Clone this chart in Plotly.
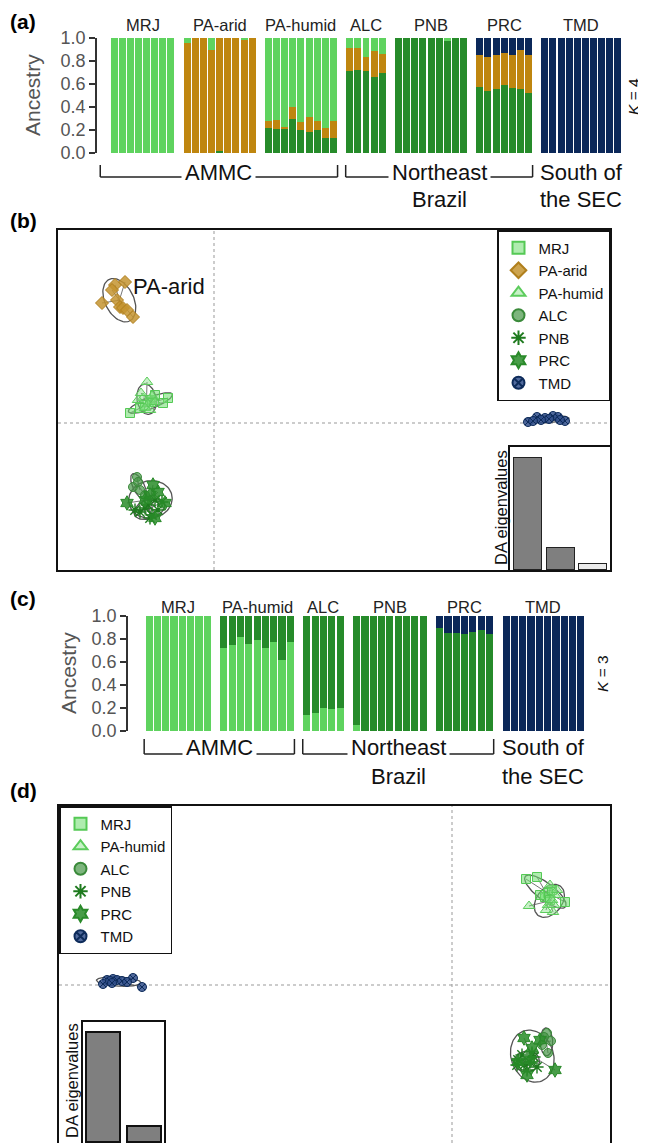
import numpy as np
import plotly.graph_objects as go

W, H = 646, 1143          # browser window
OFF = 8                   # page body margin
FW, FH = W - OFF, H - OFF  # figure size so that it fills the window
FONT = "Liberation Sans, Arial, Helvetica, sans-serif"

# ---------------- Panel (a): STRUCTURE K = 4 ----------------
k4_groups = ["MRJ", "PA-arid", "PA-humid", "ALC", "PNB", "PRC", "TMD"]
k4_sizes = [8, 9, 9, 5, 9, 7, 10]
k4_darkgreen = [0, 0, 0, 0, 0, 0, 0, 0,
                0, 0, 0, 0, 0.02, 0, 0, 0, 0,
                0.22, 0.21, 0.21, 0.30, 0.20, 0.18, 0.20, 0.13, 0.13,
                0.715, 0.72, 0.715, 0.66, 0.70,
                1, 1, 1, 1, 1, 1, 0.97, 1, 1,
                0.57, 0.54, 0.56, 0.59, 0.565, 0.56, 0.52,
                0, 0, 0, 0, 0, 0, 0, 0, 0, 0]
k4_orange = [0, 0, 0, 0, 0, 0, 0, 0,
             0.96, 1, 1, 0.90, 0.98, 1, 1, 0.98, 1,
             0.06, 0.08, 0.02, 0.10, 0.07, 0.13, 0.08, 0.09, 0.15,
             0.195, 0.19, 0.12, 0.23, 0.16,
             0, 0, 0, 0, 0, 0, 0, 0, 0,
             0.28, 0.295, 0.296, 0.283, 0.285, 0.34, 0.336,
             0, 0, 0, 0, 0, 0, 0, 0, 0, 0]
k4_lightgreen = [1, 1, 1, 1, 1, 1, 1, 1,
                 0.04, 0, 0, 0.10, 0, 0, 0, 0.02, 0,
                 0.72, 0.71, 0.77, 0.60, 0.73, 0.69, 0.72, 0.78, 0.72,
                 0.09, 0.09, 0.165, 0.11, 0.14,
                 0, 0, 0, 0, 0, 0, 0.03, 0, 0,
                 0, 0, 0, 0, 0, 0, 0,
                 0, 0, 0, 0, 0, 0, 0, 0, 0, 0]
k4_navy = [0, 0, 0, 0, 0, 0, 0, 0,
           0, 0, 0, 0, 0, 0, 0, 0, 0,
           0, 0, 0, 0, 0, 0, 0, 0, 0,
           0, 0, 0, 0, 0,
           0, 0, 0, 0, 0, 0, 0, 0, 0,
           0.15, 0.165, 0.144, 0.127, 0.15, 0.10, 0.144,
           1, 1, 1, 1, 1, 1, 1, 1, 1, 1]

# ---------------- Panel (c): STRUCTURE K = 3 ----------------
k3_groups = ["MRJ", "PA-humid", "ALC", "PNB", "PRC", "TMD"]
k3_sizes = [8, 9, 5, 9, 7, 10]
k3_lightgreen = [1, 1, 1, 1, 1, 1, 1, 1,
                 0.72, 0.745, 0.82, 0.755, 0.79, 0.72, 0.775, 0.62, 0.77,
                 0.14, 0.16, 0.20, 0.19, 0.20,
                 0.05, 0, 0, 0, 0, 0, 0, 0, 0,
                 0, 0, 0, 0, 0, 0, 0,
                 0, 0, 0, 0, 0, 0, 0, 0, 0, 0]
k3_darkgreen = [0, 0, 0, 0, 0, 0, 0, 0,
                0.28, 0.255, 0.18, 0.245, 0.21, 0.28, 0.225, 0.38, 0.23,
                0.86, 0.84, 0.80, 0.81, 0.80,
                0.95, 1, 1, 1, 1, 1, 1, 1, 1,
                0.90, 0.855, 0.855, 0.84, 0.86, 0.875, 0.847,
                0, 0, 0, 0, 0, 0, 0, 0, 0, 0]
k3_navy = [0, 0, 0, 0, 0, 0, 0, 0,
           0, 0, 0, 0, 0, 0, 0, 0, 0,
           0, 0, 0, 0, 0,
           0, 0, 0, 0, 0, 0, 0, 0, 0,
           0.10, 0.145, 0.145, 0.16, 0.14, 0.125, 0.153,
           1, 1, 1, 1, 1, 1, 1, 1, 1, 1]

ancestry_ticks = [0, 0.2, 0.4, 0.6, 0.8, 1.0]
ancestry_ticktext = ["0.0", "0.2", "0.4", "0.6", "0.8", "1.0"]

# ---------------- Panel (b): DAPC scatter, K = 4 groups ----------------
b_MRJ_x = [-8.4, -4.6, -5.1, -6.4, -6.9, -5.9, -7.4, -6.2]
b_MRJ_y = [1.0, 2.5, 2.0, 2.3, 1.8, 2.8, 1.5, 2.1]
b_PAarid_x = [-9.9, -8.9, -11.2, -8.1, -9.7, -9.4, -9.1, -10.2, -8.7]
b_PAarid_y = [13.8, 14.1, 12.0, 10.6, 12.3, 11.6, 11.5, 13.3, 11.3]
b_PAhumid_x = [-6.7, -7.1, -6.6, -7.6, -6.2, -6.9, -7.3, -6.4, -5.9]
b_PAhumid_y = [4.1, 2.5, 1.9, 2.3, 2.7, 1.5, 3.0, 1.3, 2.1]
b_ALC_x = [-7.7, -8.1, -7.4, -6.9, -7.6]
b_ALC_y = [-5.4, -6.4, -6.7, -7.2, -5.9]
b_PNB_x = [-7.4, -5.2, -6.6, -6.2, -6.9, -5.9, -7.9, -6.4, -5.6]
b_PNB_y = [-8.9, -7.9, -8.2, -9.2, -8.5, -7.7, -8.7, -9.5, -8.7]
b_PRC_x = [-8.7, -5.9, -6.1, -4.9, -6.4, -6.9, -5.6]
b_PRC_y = [-8.0, -9.5, -6.2, -8.0, -7.2, -7.7, -6.9]
b_TMD_x = [31.4, 35.1, 33.9, 32.3, 33.1, 34.4, 33.5, 32.7, 34.6, 31.9]
b_TMD_y = [0.1, 0.2, 0.7, 0.6, 0.5, 0.6, 0.4, 0.3, 0.3, 0.2]
b_eigen = [100, 19.6, 5.4]

# ---------------- Panel (d): DAPC scatter, K = 3 groups ----------------
d_MRJ_x = [7.4, 8.5, 11.3, 9.6, 9.3, 10.0, 8.8, 9.8]
d_MRJ_y = [10.6, 10.8, 8.3, 9.2, 8.8, 9.5, 9.0, 8.5]
d_PAhumid_x = [7.7, 10.1, 9.8, 10.3, 9.6, 10.0, 10.5, 9.4, 10.2]
d_PAhumid_y = [7.9, 7.3, 10.0, 9.0, 8.0, 8.5, 9.5, 7.5, 8.0]
d_ALC_x = [9.5, 9.9, 9.6, 9.0, 9.2]
d_ALC_y = [-4.8, -5.6, -6.8, -6.0, -5.2]
d_PNB_x = [7.8, 6.6, 7.2, 8.2, 7.0, 8.5, 7.5, 6.5, 8.0]
d_PNB_y = [-7.7, -7.5, -8.0, -7.2, -7.0, -8.2, -8.5, -8.0, -6.8]
d_PRC_x = [7.2, 10.3, 7.5, 6.6, 8.8, 8.0, 7.8]
d_PRC_y = [-5.3, -8.5, -9.0, -7.7, -5.5, -6.3, -7.5]
d_TMD_x = [-34.5, -33.9, -31.9, -31.0, -34.9, -34.2, -33.5, -34.0, -33.0, -32.5]
d_TMD_y = [0.5, 0.6, 0.7, -0.2, 0.1, 0.4, 0.5, 0.2, 0.4, 0.3]
d_eigen = [100, 14.5]

# ---------------- styles ----------------
C_LIGHT = "#5fd35f"
C_DARK = "#268b2a"
C_ORANGE = "#bf860f"
C_NAVY = "#0b2859"

STYLE = {
    "MRJ": dict(symbol="square", size=9, color="rgba(110,220,110,0.55)", line=dict(color="#55c955", width=1)),
    "PA-arid": dict(symbol="diamond", size=10, color="rgba(196,148,48,0.85)", line=dict(color="#b07f1c", width=1)),
    "PA-humid": dict(symbol="triangle-up", size=10, color="rgba(130,225,130,0.45)", line=dict(color="#5ccc5c", width=1)),
    "ALC": dict(symbol="circle", size=9, color="rgba(70,150,70,0.7)", line=dict(color="#3a8a3a", width=1)),
    "PNB": dict(symbol="asterisk-open", size=11, color="#1e7a1e", line=dict(color="#1e7a1e", width=1.4)),
    "PRC": dict(symbol="hexagram", size=11, color="rgba(40,140,40,0.85)", line=dict(color="#2a8a2a", width=1)),
    "TMD": dict(symbol="circle-x", size=9, color="rgba(50,80,140,0.85)", line=dict(color="#0d2b5a", width=1)),
}


def px_x(p):
    return (p - OFF) / FW


def px_y(p):
    return 1 - (p - OFF) / FH


def dom_x(a, b):
    return [px_x(a), px_x(b)]


def dom_y(top, bottom):
    return [max(0.0, px_y(bottom)), px_y(top)]


def slots(sizes):
    xs, centers, edges = [], [], []
    s = 0
    for n in sizes:
        xs.extend(range(s, s + n))
        centers.append(s + (n - 1) / 2)
        edges.append((s - 0.5, s + n - 0.5))
        s += n + 1
    return xs, centers, edges


fig = go.Figure()

# ---- bars (a)
xa, ca, ea = slots(k4_sizes)
for vals, col in [(k4_darkgreen, C_DARK), (k4_orange, C_ORANGE), (k4_lightgreen, C_LIGHT), (k4_navy, C_NAVY)]:
    fig.add_trace(go.Bar(x=xa, y=vals, width=0.86, marker=dict(color=col, line=dict(width=0)),
                         xaxis="x", yaxis="y", showlegend=False, hoverinfo="skip"))

# ---- bars (c)
xc, cc, ec = slots(k3_sizes)
for vals, col in [(k3_lightgreen, C_LIGHT), (k3_darkgreen, C_DARK), (k3_navy, C_NAVY)]:
    fig.add_trace(go.Bar(x=xc, y=vals, width=0.86, marker=dict(color=col, line=dict(width=0)),
                         xaxis="x4", yaxis="y4", showlegend=False, hoverinfo="skip"))


def ellipse(x, y, scale=1.8, n=80):
    x = np.asarray(x, float)
    y = np.asarray(y, float)
    cov = np.cov(x, y)
    vals, vecs = np.linalg.eigh(cov)
    t = np.linspace(0, 2 * np.pi, n)
    circ = np.vstack([np.cos(t), np.sin(t)]) * (scale * np.sqrt(vals))[:, None]
    pts = vecs @ circ
    return x.mean() + pts[0], y.mean() + pts[1]


def add_dapc(groups, xa_, ya_, legend):
    for name, gx, gy in groups:
        cx, cy = float(np.mean(gx)), float(np.mean(gy))
        sx, sy = [], []
        for a, b in zip(gx, gy):
            sx += [cx, a, None]
            sy += [cy, b, None]
        fig.add_trace(go.Scatter(x=sx, y=sy, mode="lines", line=dict(color="#666", width=0.9),
                                 xaxis=xa_, yaxis=ya_, showlegend=False, hoverinfo="skip"))
        ex, ey = ellipse(gx, gy)
        fig.add_trace(go.Scatter(x=ex, y=ey, mode="lines", line=dict(color="#555", width=1.3),
                                 xaxis=xa_, yaxis=ya_, showlegend=False, hoverinfo="skip"))
    for name, gx, gy in groups:
        fig.add_trace(go.Scatter(x=gx, y=gy, mode="markers", name=name, marker=STYLE[name],
                                 xaxis=xa_, yaxis=ya_, legend=legend, hoverinfo="skip"))


b_groups = [("MRJ", b_MRJ_x, b_MRJ_y), ("PA-arid", b_PAarid_x, b_PAarid_y),
            ("PA-humid", b_PAhumid_x, b_PAhumid_y), ("ALC", b_ALC_x, b_ALC_y),
            ("PNB", b_PNB_x, b_PNB_y), ("PRC", b_PRC_x, b_PRC_y), ("TMD", b_TMD_x, b_TMD_y)]
d_groups = [("MRJ", d_MRJ_x, d_MRJ_y), ("PA-humid", d_PAhumid_x, d_PAhumid_y),
            ("ALC", d_ALC_x, d_ALC_y), ("PNB", d_PNB_x, d_PNB_y),
            ("PRC", d_PRC_x, d_PRC_y), ("TMD", d_TMD_x, d_TMD_y)]
add_dapc(b_groups, "x2", "y2", "legend")
add_dapc(d_groups, "x5", "y5", "legend2")

# ---- eigenvalue insets
fig.add_trace(go.Bar(x=[1, 2, 3], y=b_eigen, width=0.86,
                     marker=dict(color=["#7f7f7f", "#7f7f7f", "#ebebeb"], line=dict(color="#222", width=1.3)),
                     xaxis="x3", yaxis="y3", showlegend=False, hoverinfo="skip"))
fig.add_trace(go.Bar(x=[1, 2], y=d_eigen, width=0.83,
                     marker=dict(color=["#7f7f7f", "#7f7f7f"], line=dict(color="#111", width=1.6)),
                     xaxis="x6", yaxis="y6", showlegend=False, hoverinfo="skip"))

tickfont = dict(family=FONT, size=18, color="#555")
grpfont = dict(family=FONT, size=16.5, color="#222")

bar_y_common = dict(range=[0, 1], tickvals=ancestry_ticks, ticktext=ancestry_ticktext, ticks="outside",
                    ticklen=6, tickwidth=1.5, tickcolor="#333", showline=True, linewidth=1.5,
                    linecolor="#333", showgrid=False, zeroline=False, tickfont=tickfont, automargin=False)
bar_x_common = dict(showticklabels=False, ticks="", showline=False,
                    showgrid=False, zeroline=False, automargin=False)
box_common = dict(showgrid=False, zeroline=False, showticklabels=False, ticks="", showline=True,
                  linecolor="#111", linewidth=1.6, automargin=False)

slot_a = (622 - 110) / 63.0
slot_c = (585 - 145) / 53.0

fig.update_layout(
    template="none",
    width=FW, height=FH, autosize=False, margin=dict(l=0, r=0, t=0, b=0, pad=0),
    paper_bgcolor="white", plot_bgcolor="white", barmode="stack", bargap=0,
    font=dict(family=FONT, color="#111"),
    xaxis=dict(domain=dom_x(97, 622), range=[-0.5 - 13 / slot_a, 62.5], anchor="y", **bar_x_common),
    yaxis=dict(domain=dom_y(38, 153), anchor="x", **bar_y_common),
    xaxis4=dict(domain=dom_x(128, 585), range=[-0.5 - 17 / slot_c, 52.5], anchor="y4", **bar_x_common),
    yaxis4=dict(domain=dom_y(616, 731), anchor="x4", **bar_y_common),
    xaxis2=dict(domain=dom_x(58, 610), range=[-15.6, 39.6], anchor="y2", mirror=True, **box_common),
    yaxis2=dict(domain=dom_y(230, 570), range=[-14.7, 19.3], anchor="x2", mirror=True, **box_common),
    xaxis3=dict(domain=dom_x(510, 610), range=[0.446, 3.52], anchor="y3", mirror=True, **box_common),
    yaxis3=dict(domain=dom_y(447, 570), range=[0, 109.8], anchor="x3", mirror=True, **box_common),
    xaxis5=dict(domain=dom_x(59, 610), range=[-39.3, 15.8], anchor="y5", side="top", mirror=False, **box_common),
    yaxis5=dict(domain=dom_y(806, 1143), range=[-15.8, 17.9], anchor="x5", mirror=True, **box_common),
    xaxis6=dict(domain=dom_x(83, 164), range=[0.488, 2.46], anchor="y6", side="top", mirror=False, **box_common),
    yaxis6=dict(domain=dom_y(1022, 1143), range=[0, 110], anchor="x6", mirror=True, **box_common),
    legend=dict(x=px_x(610), xanchor="right", y=px_y(230), yanchor="top", bgcolor="white",
                bordercolor="#111", borderwidth=1.5, font=dict(family=FONT, size=15, color="#111"),
                itemsizing="constant", tracegroupgap=0, traceorder="normal", itemwidth=30),
    legend2=dict(x=px_x(59), xanchor="left", y=px_y(806), yanchor="top", bgcolor="white",
                 bordercolor="#111", borderwidth=1.5, font=dict(family=FONT, size=15, color="#111"),
                 itemsizing="constant", tracegroupgap=0, traceorder="normal", itemwidth=30),
)

# ---- dotted zero lines
dot = dict(color="#999", width=1, dash="dot")
shapes = [
    dict(type="line", xref="x2", yref="y2 domain", x0=0, x1=0, y0=0, y1=1, line=dot, layer="below"),
    dict(type="line", xref="x2 domain", yref="y2", x0=0, x1=1, y0=0, y1=0, line=dot, layer="below"),
    dict(type="line", xref="x5", yref="y5 domain", x0=0, x1=0, y0=0, y1=1, line=dot, layer="below"),
    dict(type="line", xref="x5 domain", yref="y5", x0=0, x1=1, y0=0, y1=0, line=dot, layer="below"),
]

# ---- brackets
brk = dict(color="#222", width=1.5)


def bracket(xref, x0, x1, ytop, ybot):
    return [
        dict(type="line", xref=xref, yref="paper", x0=x0, x1=x0, y0=px_y(ytop), y1=px_y(ybot), line=brk),
        dict(type="line", xref=xref, yref="paper", x0=x0, x1=x1, y0=px_y(ybot), y1=px_y(ybot), line=brk),
        dict(type="line", xref=xref, yref="paper", x0=x1, x1=x1, y0=px_y(ytop), y1=px_y(ybot), line=brk),
    ]


shapes += bracket("x", ea[0][0] - 1.2, ea[2][1], 165, 177)
shapes += bracket("x", ea[3][0], ea[5][1], 165, 177)
shapes += bracket("x4", ec[0][0] - 0.1, ec[1][1], 739, 754)
shapes += bracket("x4", ec[2][0], ec[4][1], 739, 754)
fig.update_layout(shapes=shapes)

big = dict(family=FONT, size=22, color="#111")
ann = []


def txt(text, x, y, font, xref="paper", yref="paper", xanchor="center", yanchor="middle", **kw):
    d = dict(text=text, x=x, y=y, xref=xref, yref=yref, showarrow=False, font=font,
             xanchor=xanchor, yanchor=yanchor)
    d.update(kw)
    ann.append(d)


# group labels above the ancestry bars
for name, cx in zip(k4_groups, ca):
    txt(name, cx, px_y(25), grpfont, xref="x")
for name, cx in zip(k3_groups, cc):
    txt(name, cx, px_y(607), grpfont, xref="x4")

# panel letters
lab = dict(family=FONT, size=21, color="#000")
txt("<b>(a)</b>", 0, px_y(21), lab, xanchor="left")
txt("<b>(b)</b>", 0, px_y(221), lab, xanchor="left")
txt("<b>(c)</b>", 0, px_y(598), lab, xanchor="left")
txt("<b>(d)</b>", 0, px_y(790), lab, xanchor="left")

# ancestry titles
anc = dict(family=FONT, size=21, color="#555")
txt("Ancestry", px_x(32), px_y(95), anc, textangle=-90)
txt("Ancestry", px_x(68), px_y(673), anc, textangle=-90)

# K labels
kf = dict(family=FONT, size=15.5, color="#111")
txt("<i>K</i> = 4", px_x(634), px_y(97), kf, textangle=-90)
txt("<i>K</i> = 3", px_x(602), px_y(674), kf, textangle=-90)

# region labels (a)
amc_a = (ea[0][0] - 1.2 + ea[2][1]) / 2
ne_a = (ea[3][0] + ea[5][1]) / 2
txt("AMMC", amc_a, px_y(172), big, xref="x", bgcolor="white", borderpad=3)
txt("Northeast", ne_a, px_y(172), big, xref="x", bgcolor="white", borderpad=3)
txt("Brazil", ne_a, px_y(200), big, xref="x")
txt("South of", ca[6], px_y(172), big, xref="x")
txt("the SEC", ca[6], px_y(200), big, xref="x")

# region labels (c)
amc_c = (ec[0][0] + ec[1][1]) / 2
ne_c = (ec[2][0] + ec[4][1]) / 2
txt("AMMC", amc_c, px_y(747), big, xref="x4", bgcolor="white", borderpad=3)
txt("Northeast", ne_c, px_y(747), big, xref="x4", bgcolor="white", borderpad=3)
txt("Brazil", ne_c, px_y(776), big, xref="x4")
txt("South of", cc[5], px_y(747), big, xref="x4")
txt("the SEC", cc[5], px_y(776), big, xref="x4")

# PA-arid group label in (b)
txt("PA-arid", float(np.mean(b_PAarid_x)), float(np.mean(b_PAarid_y)), big, xref="x2", yref="y2",
    xanchor="left", xshift=12, yshift=14)

# DA eigenvalues labels
eig = dict(family=FONT, size=16.5, color="#111")
txt("DA eigenvalues", px_x(501), px_y(508), eig, textangle=-90)
txt("DA eigenvalues", px_x(72), px_y(1081), eig, textangle=-90)

fig.update_layout(annotations=ann)
fig.write_html("out.html")
